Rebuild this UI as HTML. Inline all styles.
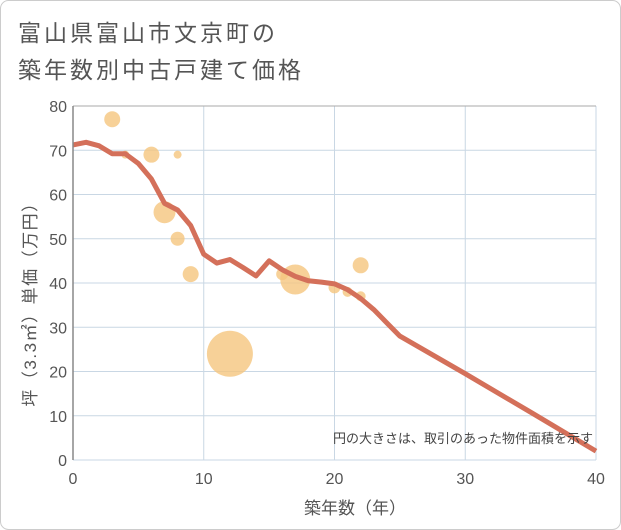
<!DOCTYPE html>
<html><head><meta charset="utf-8"><style>
body{margin:0;background:#fff}
svg{display:block;font-family:"Liberation Sans","Noto Sans CJK JP",sans-serif}
</style></head><body>
<svg width="621" height="530">
<rect x="0.5" y="0.5" width="620" height="529" rx="8" fill="#fff" stroke="#ccc"/>
<text x="18" y="41" font-size="23" letter-spacing="3" fill="#555">富山県富山市文京町の</text>
<text x="18" y="78" font-size="23" letter-spacing="3" fill="#555">築年数別中古戸建て価格</text>
<g id="grid"></g>
<g id="bubbles"></g>
<g id="line"></g>
<g id="axes"></g>
<text x="593" y="443" font-size="13" fill="#444" text-anchor="end">円の大きさは、取引のあった物件面積を示す</text>
<text x="355" y="514" font-size="17" fill="#555" text-anchor="middle">築年数（年）</text>
<text transform="translate(36,300) rotate(-90)" font-size="17" letter-spacing="1.5" fill="#555" text-anchor="middle">坪（3.3㎡）単価（万円）</text>
</svg>
<script>
const xTicks=[0,10,20,30,40];
const yTicks=[0,10,20,30,40,50,60,70,80];
const bubbleX=[3,4,6,8,7,8,9,12,16,17,20,21,22,22];
const bubbleY=[77,69,69,69,56,50,42,24,42,40.8,39,38,37,44];
const bubbleR=[8,4,8,4,11,7,8,23,6,15,6,5,5,8];
const lineX=[0,1,2,3,4,5,6,7,8,9,10,11,12,13,14,15,16,17,18,19,20,21,22,23,24,25,30,35,40];
const lineY=[71.2,71.8,71,69.2,69.2,67,63.5,58,56.5,53,46.5,44.5,45.3,43.5,41.6,45,43,41.5,40.5,40.2,39.8,38.5,36.5,34,31,28,19.5,10.8,2];
const X0=73,X1=596,Y0=460,Y1=106;
const sx=v=>X0+(v-0)/(40-0)*(X1-X0);
const sy=v=>Y0-(v-0)/(80-0)*(Y0-Y1);
const NS="http://www.w3.org/2000/svg";
function mk(t,a,p){const e=document.createElementNS(NS,t);for(const k in a)e.setAttribute(k,a[k]);p.appendChild(e);return e;}
const gridG=document.getElementById('grid'),axesG=document.getElementById('axes');
yTicks.forEach(v=>{
 const l=mk('line',{x1:X0,x2:X1,y1:sy(v),y2:sy(v),stroke:'#c9d7e4','stroke-width':1},gridG);
 
 
 const t=mk('text',{x:X0-6,y:sy(v)+6,'font-size':16,fill:'#555','text-anchor':'end'},axesG);
 t.textContent=v;
 
 
});
xTicks.forEach(v=>{
 const l=mk('line',{x1:sx(v),x2:sx(v),y1:Y1,y2:Y0,stroke:'#c9d7e4','stroke-width':1},gridG);
 
 
 const t=mk('text',{x:sx(v),y:Y0+24,'font-size':16,fill:'#555','text-anchor':'middle'},axesG);
 t.textContent=v;
 
 
});
const topBorder=mk('line',{x1:X0,x2:X1,y1:Y1,y2:Y1,stroke:'#aaa'},axesG);


const yAxisLine=mk('line',{x1:X0,x2:X0,y1:Y1,y2:Y0,stroke:'#888','stroke-width':1.5},axesG);


const bubG=document.getElementById('bubbles');
bubbleX.forEach((v,i)=>{
 const c=mk('circle',{cx:sx(v),cy:sy(bubbleY[i]),r:bubbleR[i],fill:'#f5c57e','fill-opacity':0.8},bubG);
 
 
});
const pl=mk('polyline',{points:lineX.map((v,i)=>sx(v)+','+sy(lineY[i])).join(' '),fill:'none',stroke:'#d4705a','stroke-width':5,'stroke-linejoin':'round'},document.getElementById('line'));


</script>
</body></html>
